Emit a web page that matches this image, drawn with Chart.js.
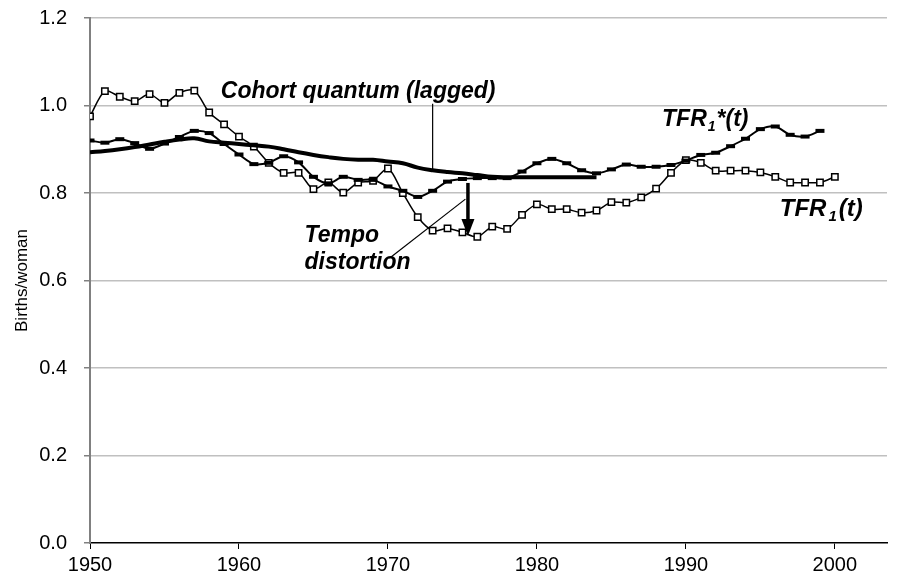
<!DOCTYPE html>
<html>
<head>
<meta charset="utf-8">
<title>TFR1 and tempo distortion</title>
<script src="https://cdn.jsdelivr.net/npm/chart.js@4"></script>
<style>
html, body { margin:0; padding:0; background:#fff; }
#canvas { display:block; }
</style>
</head>
<body>
<canvas id="canvas" width="900" height="582"></canvas>
<script>
// observed first birth TFR, 1950-2000
var years = [1950,1951,1952,1953,1954,1955,1956,1957,1958,1959,
	1960,1961,1962,1963,1964,1965,1966,1967,1968,1969,
	1970,1971,1972,1973,1974,1975,1976,1977,1978,1979,
	1980,1981,1982,1983,1984,1985,1986,1987,1988,1989,
	1990,1991,1992,1993,1994,1995,1996,1997,1998,1999,2000];
var tfr1 = [0.975,1.033,1.020,1.010,1.026,1.006,1.029,1.034,0.984,0.957,
	0.929,0.906,0.869,0.846,0.846,0.809,0.824,0.801,0.824,0.828,
	0.856,0.800,0.745,0.714,0.719,0.710,0.700,0.723,0.718,0.750,
	0.774,0.763,0.763,0.755,0.760,0.779,0.778,0.790,0.810,0.846,
	0.875,0.869,0.851,0.851,0.851,0.847,0.837,0.824,0.824,0.824,0.837];

// tempo adjusted TFR1*, 1950-1999
var tfrStar = [0.920,0.915,0.923,0.914,0.901,0.913,0.928,0.942,0.937,0.912,
	0.888,0.866,0.869,0.884,0.870,0.837,0.822,0.837,0.830,0.830,
	0.815,0.805,0.791,0.805,0.826,0.832,0.834,0.834,0.834,0.849,
	0.868,0.878,0.868,0.852,0.845,0.854,0.865,0.860,0.860,0.864,
	0.874,0.887,0.892,0.907,0.924,0.946,0.952,0.933,0.929,0.942];

// cohort quantum (lagged), 1950-1984
var cohortYears = [1950,1951,1952,1953,1954,1955,1956,1957,1958,1959,
	1960,1961,1962,1963,1964,1965,1966,1967,1968,1969,
	1970,1971,1972,1973,1974,1975,1976,1977,1978,1979,
	1980,1981,1982,1983,1984];
var cohort = [0.893,0.896,0.900,0.905,0.911,0.917,0.922,0.925,0.918,0.915,
	0.912,0.909,0.906,0.900,0.893,0.887,0.882,0.878,0.876,0.876,
	0.872,0.868,0.858,0.852,0.848,0.845,0.841,0.837,0.836,0.836,
	0.836,0.836,0.836,0.836,0.836];

var xTicks = [1950,1960,1970,1980,1990,2000];
var yTicks = [0,0.2,0.4,0.6,0.8,1.0,1.2];

var FONT = "'Liberation Sans', Arial, sans-serif";

function toPoints(xs, ys){
	var pts = new Array();
	for(var i = 0; i < ys.length; i++){
		pts.push({x:xs[i], y:ys[i]});
	}
	return pts;
}

// text with a subscript "1" after TFR
function drawTfrLabel(ctx, x, y, rest, size, gap){
	ctx.font = "italic bold "+size+"px "+FONT;
	ctx.fillText("TFR", x, y);
	var w = ctx.measureText("TFR").width + gap;
	ctx.font = "italic bold "+Math.round(size*0.62)+"px "+FONT;
	ctx.fillText("1", x+w, y+size*0.3);
	var w2 = ctx.measureText("1").width + gap;
	ctx.font = "italic bold "+size+"px "+FONT;
	ctx.fillText(rest, x+w+w2, y);
}

var notesPlugin = {
	id:"notes",
	afterDatasetsDraw:function(chart){
		var ctx = chart.ctx;
		var xs = chart.scales.x;
		var ys = chart.scales.y;
		ctx.save();
		ctx.fillStyle = "#000";
		ctx.strokeStyle = "#000";
		ctx.textBaseline = "middle";

		// cohort quantum label and pointer
		ctx.font = "italic bold 23px "+FONT;
		ctx.textAlign = "center";
		ctx.fillText("Cohort quantum (lagged)", xs.getPixelForValue(1968.0), ys.getPixelForValue(1.031));
		ctx.lineWidth = 1.2;
		ctx.beginPath();
		ctx.moveTo(xs.getPixelForValue(1973.0), ys.getPixelForValue(1.004));
		ctx.lineTo(xs.getPixelForValue(1973.0), ys.getPixelForValue(0.850));
		ctx.stroke();

		// series labels
		ctx.textAlign = "left";
		drawTfrLabel(ctx, xs.getPixelForValue(1988.4), ys.getPixelForValue(0.967), "*(t)", 23, 1);
		drawTfrLabel(ctx, xs.getPixelForValue(1996.3), ys.getPixelForValue(0.763), "(t)", 24, 2);

		// tempo distortion
		ctx.font = "italic bold 23px "+FONT;
		ctx.fillText("Tempo", xs.getPixelForValue(1964.4), ys.getPixelForValue(0.702));
		ctx.fillText("distortion", xs.getPixelForValue(1964.4), ys.getPixelForValue(0.641));
		ctx.lineWidth = 1.2;
		ctx.beginPath();
		ctx.moveTo(xs.getPixelForValue(1970.1), ys.getPixelForValue(0.651));
		ctx.lineTo(xs.getPixelForValue(1975.2), ys.getPixelForValue(0.786));
		ctx.stroke();

		// arrow
		var ax = xs.getPixelForValue(1975.37);
		var y0 = ys.getPixelForValue(0.823);
		var y1 = ys.getPixelForValue(0.702);
		ctx.lineWidth = 3.5;
		ctx.beginPath();
		ctx.moveTo(ax, y0);
		ctx.lineTo(ax, y1-14);
		ctx.stroke();
		ctx.beginPath();
		ctx.moveTo(ax-6.5, y1-17);
		ctx.lineTo(ax+6.5, y1-17);
		ctx.lineTo(ax, y1);
		ctx.closePath();
		ctx.fill();
		ctx.restore();
	}
};

var canvas = document.getElementById("canvas");
var ctx = canvas.getContext("2d");

var datasets = [
	{
		label:"TFR1*(t)",
		data:toPoints(years, tfrStar),
		borderColor:"#000",
		borderWidth:2,
		tension:0.3,
		pointStyle:"line",
		pointRadius:4.5,
		pointBorderWidth:4,
		pointBorderColor:"#000",
		order:0
	},
	{
		label:"Cohort quantum (lagged)",
		data:toPoints(cohortYears, cohort),
		borderColor:"#000",
		borderWidth:4,
		tension:0.4,
		pointRadius:0,
		order:1
	},
	{
		label:"TFR1(t)",
		data:toPoints(years, tfr1),
		borderColor:"#000",
		borderWidth:1.5,
		tension:0.3,
		pointStyle:"rect",
		pointRadius:4.5,
		pointBorderWidth:1.5,
		pointBorderColor:"#000",
		pointBackgroundColor:"#fff",
		order:2
	}
];

var chart = new Chart(ctx, {
	type:"line",
	data:{datasets:datasets},
	plugins:[notesPlugin],
	options:{
		responsive:false,
		animation:false,
		layout:{padding:{left:0, top:18, right:13, bottom:0}},
		plugins:{legend:{display:false}, tooltip:{enabled:false}},
		scales:{
			x:{
				type:"linear",
				min:1950,
				max:2003.5,
				afterBuildTicks:function(s){ s.ticks = xTicks.map(function(v){ return {value:v}; }); },
				afterFit:function(s){ s.height = 39; },
				ticks:{color:"#000", font:{family:FONT, size:20}, padding:4, maxRotation:0,
					callback:function(v){ return String(v); }},
				grid:{drawOnChartArea:false, drawTicks:true, tickLength:6, color:"#000", lineWidth:1},
				border:{display:true, color:"#000", width:1.5}
			},
			y:{
				min:0,
				max:1.2,
				afterBuildTicks:function(s){ s.ticks = yTicks.map(function(v){ return {value:v}; }); },
				afterFit:function(s){ s.width = 90; s.paddingTop = 0; s.paddingBottom = 0; },
				ticks:{color:"#000", font:{family:FONT, size:20}, padding:17,
					callback:function(v){ return v.toFixed(1); }},
				grid:{
					color:function(c){ return c.tick && c.tick.value === 0 ? "rgba(0,0,0,0)" : "#c0c0c0"; },
					lineWidth:1.5,
					tickColor:"#808080",
					tickLength:6
				},
				border:{display:true, color:"#808080", width:2},
				title:{display:true, text:"Births/woman", color:"#000", font:{family:FONT, size:17}, padding:{top:12, bottom:0}}
			}
		}
	}
});
</script>
</body>
</html>
